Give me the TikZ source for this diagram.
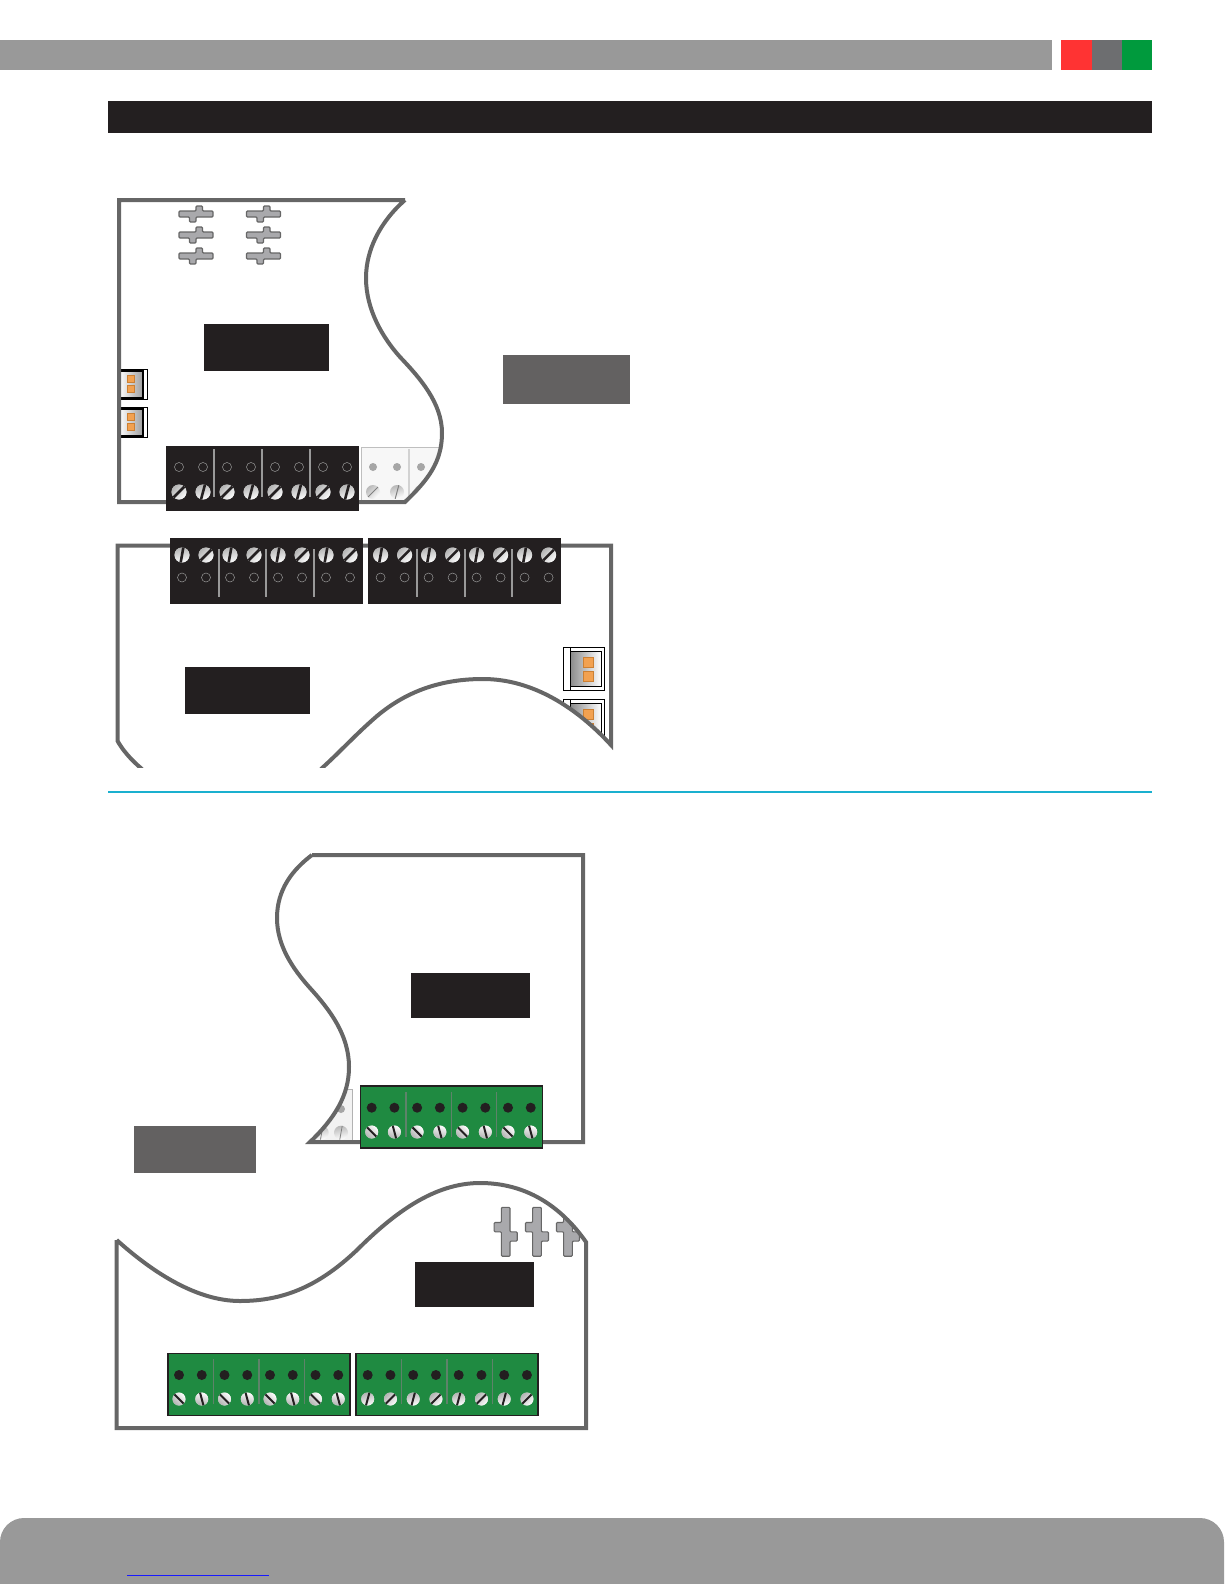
\documentclass[tikz,border=0pt]{standalone}
\usepackage{tikz}
\definecolor{inkblack}{HTML}{231F20}
\definecolor{bargray}{HTML}{999999}
\definecolor{slate}{HTML}{636161}
\definecolor{edgegray}{HTML}{666666}
\definecolor{tabred}{HTML}{FF3333}
\definecolor{tabgray}{HTML}{6D6E70}
\definecolor{tabgreen}{HTML}{009A3D}
\definecolor{rulecyan}{HTML}{1AB0CF}
\definecolor{pcbgreen}{HTML}{1F8A41}
\definecolor{pinorange}{HTML}{F2A150}
\definecolor{jumpergray}{HTML}{A9A9AC}
\tikzset{
	pics/jumper/.style={code={
		\draw[fill=jumpergray,draw=edgegray,line width=1.1pt,rounded corners=1pt]
			(-17,-3) -- (0,-3) -- (0,-8) -- (6.5,-8) -- (6.5,-3) -- (17,-3) -- (17,3)
			-- (0,3) -- (0,8) -- (-6.5,8) -- (-6.5,3) -- (-17,3) -- cycle;
	}}
}
\newcommand{\screwrow}[7]{
	\foreach \i in {0,...,7}{
		\pgfmathsetmacro\ang{isodd(\i) ? #5 : #4}
		\fill[white!88!gray] (#1+#2*\i,#3) circle (#6);
		\shade[left color=gray!70,right color=white,shading angle=\ang+90,fill opacity=0.8] (#1+#2*\i,#3) circle (#6);
		\draw[line width=#7,inkblack] ([shift={(\ang:#6)}]#1+#2*\i,#3) -- ([shift={(\ang+180:#6)}]#1+#2*\i,#3);
	}
}
\begin{document}
\begin{tikzpicture}[x=1pt,y=-1pt]
	\tikzstyle{boardline}=[draw=edgegray,line width=4pt]
	\tikzstyle{labelbox}=[rectangle,fill=inkblack,inner sep=0pt,minimum width=125pt,minimum height=47pt]
	\tikzstyle{smallbox}=[rectangle,fill=inkblack,inner sep=0pt,minimum width=119pt,minimum height=45pt]
	\tikzstyle{slatebox}=[rectangle,fill=slate,inner sep=0pt]
	\tikzstyle{blackblock}=[rectangle,fill=inkblack,inner sep=0pt,minimum width=193pt,minimum height=65pt]
	\tikzstyle{greenblock}=[rectangle,fill=pcbgreen,draw=inkblack,line width=1.5pt,inner sep=0pt,minimum width=182pt,minimum height=62pt]
	\tikzstyle{ringhole}=[circle,draw=gray!80,line width=0.5pt,inner sep=0pt,minimum size=9pt]
	\tikzstyle{darkhole}=[circle,fill=inkblack,inner sep=0pt,minimum size=10pt]
	\tikzstyle{palehole}=[circle,fill=gray!70,inner sep=0pt,minimum size=8pt]
	\tikzstyle{pin}=[rectangle,fill=pinorange,draw=orange!60!gray,line width=0.4pt,inner sep=0pt,minimum size=7pt]
	\tikzstyle{divider}=[draw=gray!80,line width=2.5pt]
	\tikzstyle{thindivider}=[draw=gray!65!pcbgreen,line width=1.5pt]
	\useasboundingbox (0,0) rectangle (1224,1584);

	% page furniture
	\fill[bargray] (0,40) rectangle (1052,70);
	\fill[tabred] (1061,40) rectangle (1092,70);
	\fill[tabgray] (1092,40) rectangle (1122,70);
	\fill[tabgreen] (1122,40) rectangle (1152,70);
	\fill[inkblack] (108,101) rectangle (1152,133);
	\draw[rulecyan,line width=1.5pt] (108,792) -- (1152,792);
	\fill[bargray,rounded corners=24pt] (0,1610) -- (0,1518) -- (1224,1518) -- (1224,1610) -- cycle;
	\draw[blue!90,line width=1pt] (127,1575) -- (269,1575);

	% first board
	\begin{scope}
		\clip (119,200) -- (405,200) .. controls (380,222) and (366,250) .. (366,278)
			.. controls (366,310) and (383,338) .. (400,357) .. controls (420,378) and (442,403) .. (442,433)
			.. controls (442,462) and (428,480) .. (405,502) -- (119,502) -- cycle;
		\draw[fill=gray!6,draw=gray!50,line width=1pt] (361,447) rectangle (450,510);
		\draw[gray!35,line width=1.5pt] (409,449) -- (409,497);
		\foreach \i in {0,1,2}
			\node[palehole] (p\i) at (373+24*\i,467){};
		\foreach \i/\a in {0/-45,1/-75,2/-45}{
			\shade[left color=gray!55,right color=white,shading angle=\a+90] (373+24*\i,492) circle (7);
			\draw[gray,line width=1pt] ([shift={(\a:7)}]373+24*\i,492) -- ([shift={(\a+180:7)}]373+24*\i,492);
		}
	\end{scope}
	\foreach \y in {369,407}{
		\draw[black,line width=1pt,fill=white] (119,\y) rectangle (147.5,\y+30.5);
		\draw[black,line width=2pt,left color=white,right color=gray!75] (119,\y+2) rectangle (142.5,\y+28.5);
		\node[pin] (a\y) at (130.7,\y+10){};
		\node[pin] (b\y) at (130.7,\y+19.5){};
	}
	\draw[boardline] (405,200) -- (119,200) -- (119,502) -- (405,502)
		.. controls (428,480) and (442,462) .. (442,433) .. controls (442,403) and (420,378) .. (400,357)
		.. controls (383,338) and (366,310) .. (366,278) .. controls (366,250) and (380,222) .. (405,200);
	\foreach \x in {196,263.5}
		\foreach \y in {214,235,256}
			\pic at (\x,\y) {jumper};
	\node[labelbox] (L1) at (266.5,347.5){ };
	\node[slatebox,minimum width=127pt,minimum height=49.5pt] (S1) at (566.5,379.5){ };
	\node[blackblock] (T1) at (262.5,478){ };
	\foreach \x in {214,262,310}
		\draw[divider] (\x,449) -- (\x,497);
	\foreach \i in {0,...,7}
		\node[ringhole] (h\i) at (179+24*\i,467){};
	\screwrow{179}{24}{492}{-45}{-75}{7.5}{2.6pt}

	% second board
	\begin{scope}
		\clip (100,500) rectangle (620,767.5);
		\begin{scope}
			\clip (117.6,545.5) -- (611,545.5) -- (611,745) .. controls (577,708) and (533,679) .. (483,679)
				.. controls (443,679) and (408,690) .. (377,716) .. controls (355,735) and (340,752) .. (321,769)
				-- (117.6,769) -- cycle;
			\foreach \y in {647,699}{
				\draw[black,line width=1pt,fill=white] (563.3,\y) rectangle (604.5,\y+43);
				\draw[black,line width=1pt,left color=gray!90,right color=white] (570.7,\y+4.5) rectangle (601,\y+39.5);
				\draw[black,line width=1pt] (570.7,\y) -- (570.7,\y+43);
				\node[pin,minimum size=10pt] (c\y) at (587.7,\y+15){};
				\node[pin,minimum size=10pt] (d\y) at (587.7,\y+29){};
			}
		\end{scope}
		\draw[boardline] (142,769) .. controls (130,759) and (122,749) .. (117.6,741) -- (117.6,545.5) -- (611,545.5) -- (611,745)
			.. controls (577,708) and (533,679) .. (483,679) .. controls (443,679) and (408,690) .. (377,716)
			.. controls (355,735) and (340,752) .. (321,769);
	\end{scope}
	\node[labelbox] (L2) at (247.5,690.3){ };
	\node[blackblock,minimum height=66pt] (T2) at (266.5,570.5){ };
	\node[blackblock,minimum height=66pt] (T3) at (464.5,570.5){ };
	\foreach \x in {219,266,314,417,465,512}
		\draw[divider] (\x,549) -- (\x,597);
	\foreach \i in {0,...,7}{
		\node[ringhole] (i\i) at (182+24*\i,577.5){};
		\node[ringhole] (j\i) at (380.6+24*\i,577.5){};
	}
	\screwrow{182}{24}{555}{-80}{-45}{7.5}{2.6pt}
	\screwrow{380.6}{24}{555}{-80}{-45}{7.5}{2.6pt}

	% third board
	\node[slatebox,minimum width=122pt,minimum height=46.5pt] (S2) at (195,1149.3){ };
	\begin{scope}
		\clip (312,855) -- (583,855) -- (583,1142) -- (310,1142) .. controls (335,1118) and (349,1095) .. (349,1067)
			.. controls (349,1035) and (330,1010) .. (310,988) .. controls (292,968) and (277,945) .. (277,918)
			.. controls (277,890) and (292,870) .. (312,855);
		\draw[fill=gray!10,draw=gray!60,line width=1pt] (290,1089) rectangle (352.7,1146);
		\node[palehole] (k) at (341,1109){};
		\foreach \x in {321.7,341}{
			\shade[left color=gray!55,right color=white,shading angle=10] (\x,1132.7) circle (7);
			\draw[gray,line width=0.8pt] ([shift={(-80:7)}]\x,1132.7) -- ([shift={(100:7)}]\x,1132.7);
		}
	\end{scope}
	\draw[boardline] (312,855) -- (583,855) -- (583,1142) -- (310,1142) .. controls (335,1118) and (349,1095) .. (349,1067)
		.. controls (349,1035) and (330,1010) .. (310,988) .. controls (292,968) and (277,945) .. (277,918)
		.. controls (277,890) and (292,870) .. (312,855);
	\node[smallbox] (L3) at (470.5,995.3){ };
	\node[greenblock] (T4) at (451.3,1116.8){ };
	\foreach \x in {406,451.3,496.7}
		\draw[thindivider] (\x,1092) -- (\x,1136.7);
	\foreach \i in {0,...,7}
		\node[darkhole] (m\i) at (371.7+22.72*\i,1107.7){};
	\screwrow{371.7}{22.72}{1132}{45}{75}{6.5}{2pt}

	% fourth board
	\begin{scope}
		\clip (116.7,1240) -- (116.7,1428) -- (586,1428) -- (586,1242) .. controls (560,1205) and (525,1183) .. (480,1183)
			.. controls (435,1183) and (395,1212) .. (357,1250) .. controls (320,1285) and (285,1301) .. (240,1301)
			.. controls (195,1301) and (150,1270) .. (116.7,1240);
		\foreach \x in {505.7,537,568}
			\pic[rotate=90,scale=1.44] at (\x,1231.8) {jumper};
	\end{scope}
	\draw[boardline] (116.7,1240) -- (116.7,1428) -- (586,1428) -- (586,1242) .. controls (560,1205) and (525,1183) .. (480,1183)
		.. controls (435,1183) and (395,1212) .. (357,1250) .. controls (320,1285) and (285,1301) .. (240,1301)
		.. controls (195,1301) and (150,1270) .. (116.7,1240);
	\node[smallbox] (L4) at (474.5,1284.3){ };
	\node[greenblock] (T5) at (258.8,1384.3){ };
	\node[greenblock] (T6) at (446.8,1384.3){ };
	\foreach \x in {213.7,259,304.3,401.7,447,492.6}
		\draw[thindivider] (\x,1359) -- (\x,1404);
	\foreach \i in {0,...,7}{
		\node[darkhole] (n\i) at (179+22.75*\i,1375){};
		\node[darkhole] (o\i) at (367.7+22.75*\i,1375){};
	}
	\screwrow{179}{22.75}{1399}{45}{75}{6.5}{2pt}
	\screwrow{367.7}{22.75}{1399}{-75}{-45}{6.5}{2pt}
\end{tikzpicture}
\end{document}
